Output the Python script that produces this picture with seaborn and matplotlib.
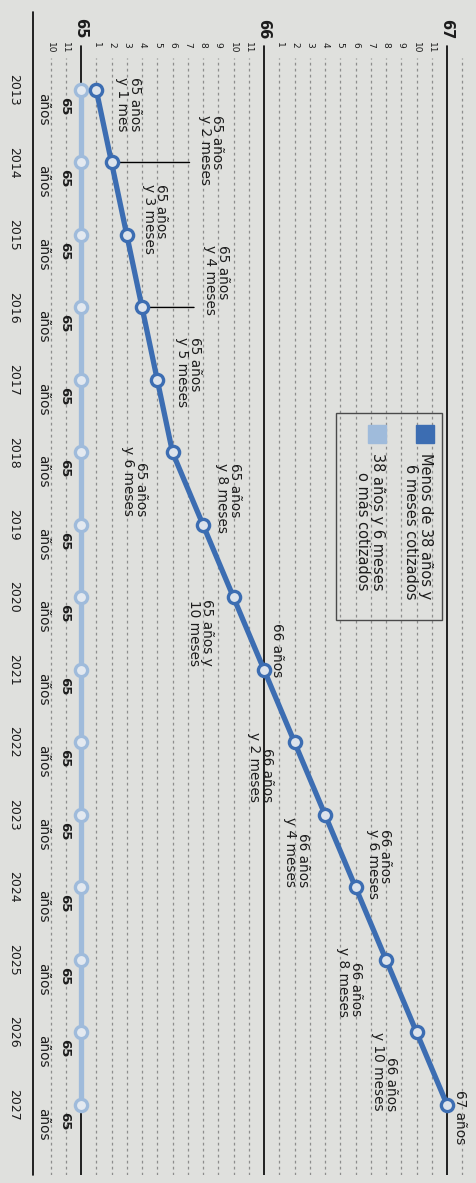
import matplotlib
matplotlib.use("Agg")
import matplotlib.pyplot as plt
import matplotlib.transforms as mtransforms
from matplotlib.patches import Rectangle
import pandas as pd
import seaborn as sns

# datos: edad legal de jubilación por año (meses por encima de 65 años)
anios = list(range(2013, 2028))
meses_menos_38 = [1, 2, 3, 4, 5, 6, 8, 10, 12, 14, 16, 18, 20, 22, 24]
meses_38_o_mas = [0, 0, 0, 0, 0, 0, 0, 0, 0, 0, 0, 0, 0, 0, 0]
etiquetas_menos_38 = [
    "65 años\ny 1 mes", "65 años\ny 2 meses", "65 años\ny 3 meses",
    "65 años\ny 4 meses", "65 años\ny 5 meses", "65 años\ny 6 meses",
    "65 años\ny 8 meses", "65 años y\n10 meses", "66 años",
    "66 años\ny 2 meses", "66 años\ny 4 meses", "66 años\ny 6 meses",
    "66 años\ny 8 meses", "66 años\ny 10 meses", "67 años",
]
etiqueta_38_edad = "65"
etiqueta_38_unidad = "años"
edades = [65, 66, 67]
meses_eje = list(range(-2, 26))
meses_rotulo = list(range(-2, 24))
leyenda = ["Menos de 38 años y\n6 meses cotizados", "38 años y 6 meses\no más cotizados"]

# estilo
bg = "#dfe0dd"
azul = "#3c6db2"
azul_claro = "#9fbbdb"
tinta = "#1c1c1c"
PT = 0.72  # puntos por pixel a 100 dpi

# colocación de etiquetas: (dx px, dy px hacia arriba, ha, va)
pos_etiquetas = [
    (19, 13, "left", "top"), (86, 12, "left", "center"), (15, 16, "left", "center"),
    (61, 27, "left", "center"), (18, 8, "left", "center"), (-25, 6, "right", "top"),
    (12, -8, "left", "bottom"), (-20, -2, "right", "top"), (6, -7, "left", "bottom"),
    (-21, 10, "right", "top"), (-15, -2, "right", "top"), (10, -12, "left", "bottom"),
    (-23, 13, "right", "top"), (-19, 0, "right", "top"), (6, 15, "left", "top"),
]
guias = {1: 78, 3: 52}  # índice -> largo de la línea guía en px

sns.set_style("white")
plt.rcParams["font.family"] = ["DejaVu Sans"]

df_menos = pd.DataFrame({"meses": meses_menos_38, "anio": anios})
df_mas = pd.DataFrame({"meses": meses_38_o_mas, "anio": anios})

W, H = 476, 1183
fig = plt.figure(figsize=(W / 100, H / 100), dpi=100)
fig.patch.set_facecolor(bg)
ax = fig.add_axes([33 / W, 8 / H, 443 / W, 1135 / H])
ax.set_facecolor(bg)

# rejilla punteada de meses y líneas de edades
for m in meses_eje:
    if m % 12 == 0:
        ax.axvline(m, ymin=0, ymax=0.995, color="black", lw=1.2, zorder=2)
    else:
        ax.axvline(m, ymin=0, ymax=0.984, color="#8d8d8d", lw=0.9,
                   linestyle=(0, (2.2, 2.6)), zorder=1)

trans_top = mtransforms.blended_transform_factory(ax.transData, ax.transAxes)
for m in meses_rotulo:
    if m % 12 != 0:
        ax.text(m, 0.9985, str(m % 12), transform=trans_top, rotation=270,
                ha="center", va="top", fontsize=6.5, color=tinta)
for i, e in enumerate(edades):
    ax.text(i * 12, 1.001, str(e), transform=trans_top, rotation=270,
            ha="center", va="bottom", fontsize=10.5, fontweight="bold", color=tinta)

# series
sns.lineplot(data=df_mas, x="meses", y="anio", orient="y", sort=False, estimator=None,
             color=azul_claro, lw=3.8, marker="o", markersize=8.8,
             markerfacecolor="#e3e9f0", markeredgecolor=azul_claro,
             markeredgewidth=2.4, ax=ax, zorder=4)
sns.lineplot(data=df_menos, x="meses", y="anio", orient="y", sort=False, estimator=None,
             color=azul, lw=3.8, marker="o", markersize=8.8,
             markerfacecolor="#dce3ec", markeredgecolor=azul,
             markeredgewidth=2.4, ax=ax, zorder=5)

# etiquetas serie oscura
for i, (m, a, txt) in enumerate(zip(meses_menos_38, anios, etiquetas_menos_38)):
    dx, dy, ha, va = pos_etiquetas[i]
    ax.annotate(txt, xy=(m, a), xytext=(dx * PT, dy * PT), textcoords="offset points",
                rotation=270, ha=ha, va=va, fontsize=9.8, linespacing=0.88,
                color=tinta, zorder=6)
    if i in guias:
        ax.annotate("", xy=(m, a), xytext=(guias[i] * PT, 0), textcoords="offset points",
                    arrowprops=dict(arrowstyle="-", lw=1.0, color="black",
                                    shrinkA=0, shrinkB=0), zorder=3)

# etiquetas serie clara
for m, a in zip(meses_38_o_mas, anios):
    ax.annotate(etiqueta_38_edad, xy=(m, a), xytext=(-10 * PT, -7 * PT),
                textcoords="offset points", rotation=270, ha="right", va="top",
                fontsize=9.5, fontweight="bold", color=tinta)
    ax.annotate(etiqueta_38_unidad, xy=(m, a), xytext=(-31 * PT, -3 * PT),
                textcoords="offset points", rotation=270, ha="right", va="top",
                fontsize=9.8, color=tinta)

# ejes
ax.set_xlim(-3.15, 25.9)
ax.set_ylim(2027.97, 2012.31)
ax.set_xticks([])
ax.set_yticks(anios)
ax.set_yticklabels([str(a) for a in anios], rotation=270, va="center",
                   fontsize=9, color=tinta)
ax.tick_params(axis="y", direction="inout", length=10, width=1, pad=4.3, color="black")
ax.set_xlabel("")
ax.set_ylabel("")
for s in ax.spines.values():
    s.set_visible(False)
ax.plot([0, 0], [0, 1.025], transform=ax.transAxes, color="black", lw=1.2,
        clip_on=False, zorder=3)


# leyenda manual rotada
def fx(px):
    return px / W


def fy(py):
    return 1 - py / H


fig.patches.append(Rectangle((fx(336), fy(620)), fx(442) - fx(336), fy(413) - fy(620),
                             transform=fig.transFigure, fill=False,
                             edgecolor="#4a4a4a", lw=1.0))
fig.patches.append(Rectangle((fx(416), fy(443)), fx(18), 18 / H,
                             transform=fig.transFigure, color=azul))
fig.patches.append(Rectangle((fx(368), fy(443)), fx(18), 18 / H,
                             transform=fig.transFigure, color=azul_claro))
fig.text(fx(433), fy(453), leyenda[0], rotation=270, ha="right", va="top",
         fontsize=10.5, linespacing=1.0, color=tinta)
fig.text(fx(385), fy(453), leyenda[1], rotation=270, ha="right", va="top",
         fontsize=10.5, linespacing=1.0, color=tinta)

fig.savefig("out.png", dpi=100, facecolor=bg)
